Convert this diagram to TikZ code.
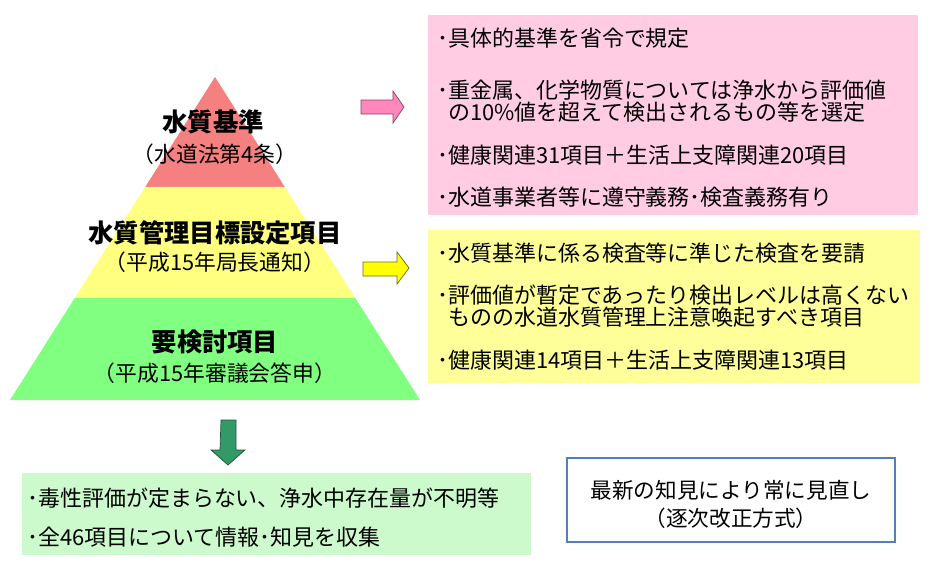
\documentclass[tikz,border=0pt]{standalone}
\usepackage{fontspec}
\setmainfont{Noto Sans CJK JP}
\usetikzlibrary{calc}
\definecolor{pyrred}{RGB}{245,128,128}
\definecolor{pyryel}{RGB}{255,255,128}
\definecolor{pyrgrn}{RGB}{128,255,128}
\definecolor{boxpink}{RGB}{255,204,228}
\definecolor{boxyel}{RGB}{255,255,153}
\definecolor{boxgrn}{RGB}{204,250,204}
\definecolor{arrpink}{RGB}{255,136,187}
\definecolor{arrpinkline}{RGB}{130,70,100}
\definecolor{arryel}{RGB}{255,255,0}
\definecolor{arryelline}{RGB}{110,110,20}
\definecolor{arrgrn}{RGB}{51,153,102}
\definecolor{arrgrnline}{RGB}{30,90,60}
\definecolor{noteblue}{RGB}{79,129,189}
\begin{document}
\begin{tikzpicture}[x=0.02cm,y=-0.02cm,
	tier/.style={inner sep=0pt,font=\bfseries\fontsize{14.4}{17}\selectfont},
	sub/.style={inner sep=0pt,font=\fontsize{12.4}{14}\selectfont},
	item/.style={anchor=west,inner sep=0pt,align=left,font=\fontsize{12.5}{12.6}\selectfont},
	panel/.style={inner sep=0pt,outer sep=0pt}]
	\useasboundingbox (0,0) rectangle (934,582);
	\coordinate (apex) at (215,77);
	\coordinate (bl) at (10,400);
	\coordinate (br) at (420,400);
	\coordinate (l1) at ($(apex)!.34!(bl)$);
	\coordinate (r1) at ($(apex)!.34!(br)$);
	\coordinate (l2) at ($(apex)!.684!(bl)$);
	\coordinate (r2) at ($(apex)!.684!(br)$);
	\fill[pyrred] (apex)--(r1)--(l1)--cycle;
	\fill[pyryel] (l1)--(r1)--(r2)--(l2)--cycle;
	\fill[pyrgrn] (l2)--(r2)--(br)--(bl)--cycle;
	\node[tier] (t1) at (213,122) {水質基準};
	\node[sub] (s1) at (215,154) {（水道法第4条）};
	\node[tier] (t2) at (215,233) {水質管理目標設定項目};
	\node[sub] (s2) at (215,262) {（平成15年局長通知）};
	\node[tier] (t3) at (215,342) {要検討項目};
	\node[sub] (s3) at (215,373) {（平成15年審議会答申）};
	\filldraw[fill=arrpink,draw=arrpinkline] (361,100)--(393,100)--(393,91)--(404,107)--(393,123)--(393,114)--(361,114)--cycle;
	\filldraw[fill=arryel,draw=arryelline] (363,262)--(397,262)--(397,252)--(409,268)--(397,284)--(397,276)--(363,276)--cycle;
	\filldraw[fill=arrgrn,draw=arrgrnline] (221,420)--(236,420)--(236,450)--(245,450)--(228,465)--(211,450)--(220,450)--cycle;
	\node[panel,fill=boxpink,minimum width=9.8cm,minimum height=4cm] (std) at (673,115) {};
	\node[item] (p1) at (437,38) {･具体的基準を省令で規定};
	\node[item] (p2) at (437,101) {･重金属、化学物質については浄水から評価値\\\phantom{･}の10\%値を超えて検出されるもの等を選定};
	\node[item] (p3) at (437,155) {･健康関連31項目＋生活上支障関連20項目};
	\node[item] (p4) at (437,197) {･水道事業者等に遵守義務･検査義務有り};
	\node[panel,fill=boxyel,minimum width=9.84cm,minimum height=3.06cm] (goal) at (674,306.5) {};
	\node[item] (y1) at (437,253) {･水質基準に係る検査等に準じた検査を要請};
	\node[item] (y2) at (437,306) {･評価値が暫定であったり検出レベルは高くない\\\phantom{･}ものの水道水質管理上注意喚起すべき項目};
	\node[item] (y3) at (437,360) {･健康関連14項目＋生活上支障関連13項目};
	\node[panel,fill=boxgrn,minimum width=10.18cm,minimum height=1.64cm] (study) at (276.5,514) {};
	\node[item] (g1) at (27,498) {･毒性評価が定まらない、浄水中存在量が不明等};
	\node[item] (g2) at (27,537) {･全46項目について情報･知見を収集};
	\node[panel,draw=noteblue,line width=1.1pt,fill=white,minimum width=6.56cm,minimum height=1.68cm] (note) at (731,500) {};
	\node[inner sep=0pt,align=center,font=\fontsize{12.3}{15.9}\selectfont] (n1) at (731,504) {最新の知見により常に見直し\\（逐次改正方式）};
\end{tikzpicture}
\end{document}
